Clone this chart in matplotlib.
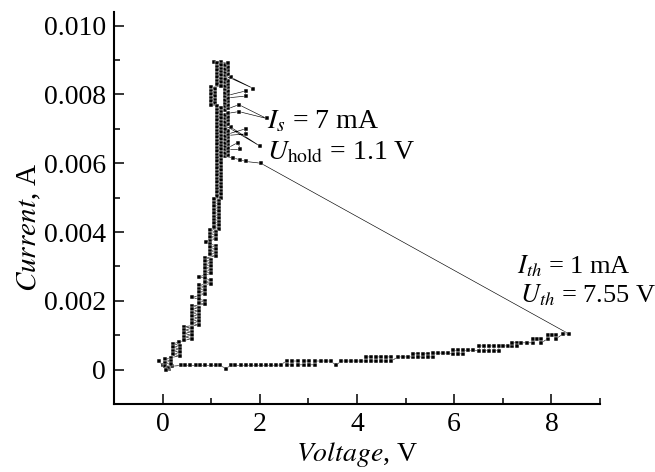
import numpy as np
import matplotlib
matplotlib.use('Agg')
import matplotlib.pyplot as plt
from matplotlib.ticker import MultipleLocator

plt.rcParams['font.family'] = 'serif'
plt.rcParams['font.serif'] = ['Liberation Serif', 'DejaVu Serif']
plt.rcParams['mathtext.fontset'] = 'stix'

# off-state sweep along the bottom (V, current in mA)
bottom_v = [-0.08, 0.00, 0.07, 0.13, 0.20, 0.37, 0.47, 0.57, 0.68, 0.78, 0.88, 0.99, 1.09, 1.19, 1.30,
            1.40, 1.50, 1.61, 1.71, 1.81, 1.92, 2.02, 2.12, 2.23, 2.33, 2.43,
            2.55, 2.55, 2.66, 2.66, 2.78, 2.78, 2.90, 2.90, 3.02, 3.02, 3.14, 3.14,
            3.26, 3.36, 3.46, 3.57, 3.67, 3.77, 3.87, 3.98, 4.08,
            4.19, 4.19, 4.29, 4.29, 4.39, 4.39, 4.50, 4.50, 4.60, 4.60, 4.70, 4.70,
            4.85, 4.95, 5.05, 5.15, 5.15, 5.26, 5.26, 5.36, 5.36, 5.46, 5.46,
            5.56, 5.56, 5.67, 5.77, 5.88, 5.98, 5.98, 6.08, 6.08, 6.18, 6.18, 6.28, 6.38,
            6.52, 6.52, 6.62, 6.62, 6.72, 6.72, 6.82, 6.82, 6.92, 6.92, 7.00, 7.10,
            7.20, 7.20, 7.30, 7.30, 7.38, 7.50, 7.63, 7.63, 7.71, 7.79, 7.79,
            7.93, 7.93, 8.02, 8.10, 8.10, 8.24, 8.37]
bottom_i = [0.24, 0.14, 0.05, 0.02, 0.10, 0.12, 0.12, 0.12, 0.12, 0.12, 0.12, 0.12, 0.12, 0.12, 0.03,
            0.12, 0.12, 0.12, 0.12, 0.12, 0.12, 0.12, 0.12, 0.12, 0.12, 0.14,
            0.25, 0.14, 0.14, 0.25, 0.25, 0.14, 0.14, 0.25, 0.25, 0.14, 0.14, 0.25,
            0.25, 0.25, 0.25, 0.12, 0.25, 0.25, 0.25, 0.25, 0.25,
            0.25, 0.37, 0.37, 0.25, 0.25, 0.37, 0.37, 0.25, 0.25, 0.37, 0.37, 0.25,
            0.37, 0.37, 0.37, 0.37, 0.46, 0.46, 0.37, 0.37, 0.46, 0.46, 0.37,
            0.37, 0.48, 0.48, 0.48, 0.48, 0.46, 0.56, 0.56, 0.46, 0.46, 0.56, 0.56, 0.56,
            0.55, 0.69, 0.69, 0.55, 0.55, 0.69, 0.69, 0.55, 0.55, 0.69, 0.69, 0.69,
            0.69, 0.78, 0.78, 0.69, 0.78, 0.78, 0.78, 0.90, 0.90, 0.90, 0.78,
            0.90, 1.00, 1.00, 1.00, 0.90, 1.04, 1.03]

# on-state: snap back, then the current climbs the right side of the column
rise_v = [2.02, 1.71, 1.60, 1.45,
          1.28, 1.35, 1.28, 1.35, 1.28, 1.60, 1.55, 1.35, 1.28, 1.35, 1.28, 1.35, 1.28, 1.35, 1.28,
          1.71, 1.71, 1.35, 1.28, 1.35, 1.28, 1.40, 2.00,
          1.28, 1.35, 1.28, 1.35, 1.28, 1.35, 1.28, 1.35, 1.57, 2.14, 1.57,
          1.28, 1.35, 1.28, 1.35, 1.28, 1.35, 1.28, 1.35, 1.71, 1.71,
          1.28, 1.35, 1.28, 1.35, 1.28, 1.35, 1.28, 1.35, 1.28, 1.35, 1.28, 1.40, 1.87,
          1.28, 1.35, 1.28, 1.35, 1.28, 1.35, 1.28, 1.35, 1.20, 1.06]
rise_i = [6.00, 6.05, 6.10, 6.15,
          6.20, 6.25, 6.30, 6.35, 6.40, 6.40, 6.60, 6.45, 6.50, 6.55, 6.60, 6.65, 6.70, 6.75, 6.80,
          6.85, 7.00, 6.85, 6.90, 6.95, 7.00, 7.05, 6.50,
          7.10, 7.15, 7.20, 7.25, 7.30, 7.35, 7.40, 7.45, 7.50, 7.30, 7.70,
          7.55, 7.60, 7.65, 7.70, 7.75, 7.80, 7.85, 7.90, 7.95, 8.10,
          7.95, 8.00, 8.05, 8.10, 8.15, 8.20, 8.25, 8.30, 8.35, 8.40, 8.45, 8.50, 8.17,
          8.55, 8.60, 8.65, 8.70, 8.75, 8.80, 8.85, 8.90, 8.95, 8.95]

# on-state: current falls back inside the column
fall_v = [1.13, 1.21, 1.13, 1.21, 1.13, 1.21, 1.13, 1.21, 1.13, 1.21,
          1.13, 1.21, 1.13, 1.21, 1.00, 1.07, 1.00, 1.07, 1.00, 1.07,
          1.00, 1.07, 1.00, 1.07, 1.00, 1.13, 1.21, 1.13, 1.21, 1.13,
          1.21, 1.13, 1.21, 1.13, 1.21, 1.13, 1.21, 1.13, 1.21, 1.13,
          1.21, 1.13, 1.21, 1.13, 1.21, 1.13, 1.21, 1.13, 1.21, 1.13,
          1.21, 1.13, 1.21, 1.13, 1.21, 1.13, 1.21, 1.13, 1.21, 1.13,
          1.21, 1.13, 1.21, 1.13, 1.21, 1.13, 1.21, 1.13, 1.21, 1.13,
          1.21, 1.13, 1.21, 1.13, 1.21, 1.13, 1.21, 1.13, 1.21]
fall_i = [8.90, 8.85, 8.80, 8.75, 8.70, 8.65, 8.60, 8.55, 8.50, 8.45,
          8.40, 8.35, 8.30, 8.25, 8.20, 8.15, 8.10, 8.05, 8.00, 7.95,
          7.90, 7.85, 7.80, 7.75, 7.70, 7.65, 7.60, 7.55, 7.50, 7.45,
          7.40, 7.35, 7.30, 7.25, 7.20, 7.15, 7.10, 7.05, 7.00, 6.95,
          6.90, 6.85, 6.80, 6.75, 6.70, 6.65, 6.60, 6.55, 6.50, 6.45,
          6.40, 6.35, 6.30, 6.25, 6.20, 6.15, 6.10, 6.05, 6.00, 5.95,
          5.90, 5.85, 5.80, 5.75, 5.70, 5.65, 5.60, 5.55, 5.50, 5.45,
          5.40, 5.35, 5.30, 5.25, 5.20, 5.15, 5.10, 5.05, 5.00]

# on-state: down the left branch back to zero
branch_v = [1.06, 1.16, 1.06, 1.16, 1.06, 1.16, 1.06, 1.16, 1.06, 1.16,
            1.06, 1.16, 1.06, 1.16, 1.06, 1.16, 1.06, 1.16, 0.98, 1.10,
            0.98, 1.10, 0.98, 1.10, 0.98, 0.89, 0.98, 1.10, 0.98, 1.10,
            0.98, 1.10, 0.98, 1.10, 0.88, 1.00, 0.88, 1.00, 0.88, 1.00,
            0.88, 1.00, 0.88, 1.00, 0.88, 0.75, 0.88, 1.00, 0.88, 1.00,
            0.74, 0.88, 0.74, 0.88, 0.74, 0.88, 0.74, 0.61, 0.74, 0.88,
            0.74, 0.88, 0.60, 0.74, 0.60, 0.74, 0.60, 0.74, 0.60, 0.74,
            0.60, 0.74, 0.60, 0.74, 0.45, 0.60, 0.45, 0.60, 0.45, 0.60,
            0.45, 0.60, 0.45, 0.33, 0.22, 0.35, 0.22, 0.35, 0.22, 0.35,
            0.22, 0.35, 0.17, 0.05, 0.17, 0.05, 0.17, 0.05, 0.12, 0.08]
branch_i = [4.95, 4.90, 4.85, 4.80, 4.75, 4.70, 4.65, 4.60, 4.55, 4.50,
            4.45, 4.40, 4.35, 4.30, 4.25, 4.20, 4.15, 4.10, 4.05, 4.00,
            3.95, 3.90, 3.85, 3.80, 3.75, 3.70, 3.65, 3.60, 3.55, 3.50,
            3.45, 3.40, 3.35, 3.30, 3.25, 3.20, 3.15, 3.10, 3.05, 3.00,
            2.95, 2.90, 2.85, 2.80, 2.75, 2.70, 2.65, 2.60, 2.55, 2.50,
            2.45, 2.40, 2.35, 2.30, 2.25, 2.20, 2.15, 2.10, 2.05, 2.00,
            1.95, 1.90, 1.85, 1.80, 1.75, 1.70, 1.65, 1.60, 1.55, 1.50,
            1.45, 1.40, 1.35, 1.30, 1.25, 1.20, 1.15, 1.10, 1.05, 1.00,
            0.95, 0.90, 0.85, 0.80, 0.75, 0.70, 0.65, 0.60, 0.55, 0.50,
            0.45, 0.40, 0.35, 0.30, 0.25, 0.20, 0.15, 0.10, 0.05, 0.00]

yticks = [0, 0.002, 0.004, 0.006, 0.008, 0.010]
ytick_labels = ['0', '0.002', '0.004', '0.006', '0.008', '0.010']
xticks = [0, 2, 4, 6, 8]

volt = np.array(bottom_v + rise_v + fall_v + branch_v)
curr = np.array(bottom_i + rise_i + fall_i + branch_i) / 1000.0

fig = plt.figure(figsize=(6.55, 4.72), dpi=100)
ax = fig.add_axes([0.174, 0.144, 0.742, 0.831])

ax.plot(volt, curr, color='black', lw=0.45, marker='s', ms=2.5,
        markerfacecolor='black', markeredgecolor='white', markeredgewidth=0.35)

ax.set_xlim(-1, 9)
ax.set_ylim(-0.001, 0.0104)
ax.set_xticks(xticks)
ax.set_xticklabels([str(t) for t in xticks])
ax.set_yticks(yticks)
ax.set_yticklabels(ytick_labels)
ax.xaxis.set_minor_locator(MultipleLocator(1))
ax.yaxis.set_minor_locator(MultipleLocator(0.001))
ax.tick_params(which='major', direction='in', length=7, width=1.1, labelsize=20, pad=6)
ax.tick_params(which='minor', direction='in', length=4, width=1.1)
ax.spines['top'].set_visible(False)
ax.spines['right'].set_visible(False)
ax.spines['left'].set_linewidth(1.5)
ax.spines['bottom'].set_linewidth(1.5)

ax.set_xlabel(r'$\mathit{Voltage}$, V', fontsize=20, labelpad=2)
ax.set_ylabel(r'$\mathit{Current}$, A', fontsize=21)
ax.yaxis.set_label_coords(-0.145, 0.45)

ax.text(2.15, 0.0070, r'$I_s$ = 7 mA', fontsize=20)
ax.text(2.15, 0.0061, r'$U_{\mathrm{hold}}$ = 1.1 V', fontsize=20)
ax.text(7.3, 0.0028, r'$I_{th}$ = 1 mA', fontsize=19)
ax.text(7.35, 0.00195, r'$U_{th}$ = 7.55 V', fontsize=19)

fig.savefig('out.png', dpi=100)
